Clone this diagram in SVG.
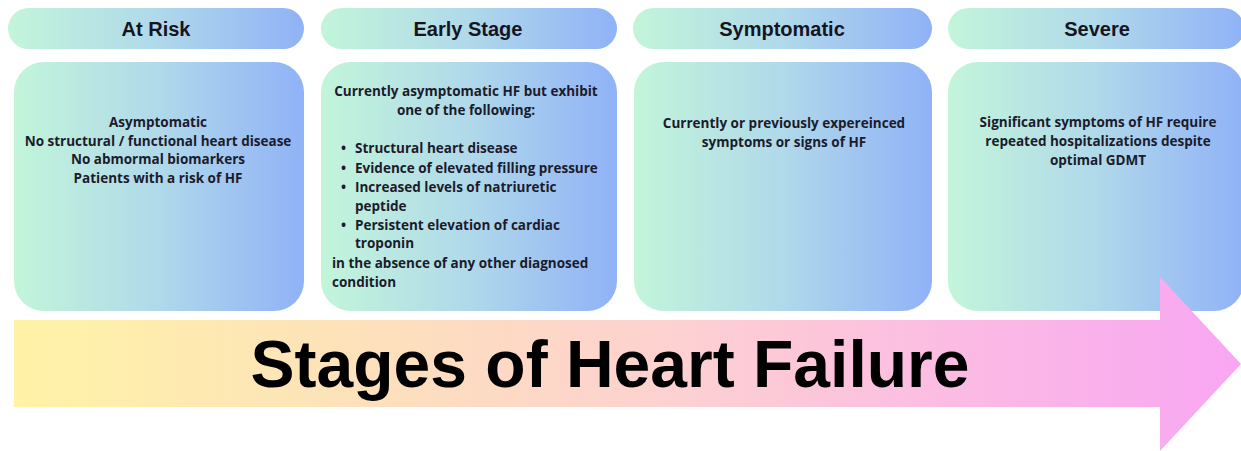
<svg xmlns="http://www.w3.org/2000/svg" width="1241" height="451" viewBox="0 0 1241 451">
<defs>
<linearGradient id="card" x1="0" y1="0" x2="1" y2="0">
<stop offset="0" stop-color="#c3f5da"/>
<stop offset="0.5" stop-color="#b0d9ea"/>
<stop offset="1" stop-color="#90b2f7"/>
</linearGradient>
<linearGradient id="arrow" gradientUnits="userSpaceOnUse" x1="14" y1="0" x2="1241" y2="0">
<stop offset="0" stop-color="#fff3a6"/>
<stop offset="0.3" stop-color="#fde0bc"/>
<stop offset="0.55" stop-color="#fdd0d2"/>
<stop offset="0.8" stop-color="#fbb8e6"/>
<stop offset="1" stop-color="#f8a6f2"/>
</linearGradient>
<style>
.hdr{font-family:"Liberation Sans",Arial,sans-serif;font-weight:700;font-size:20px;fill:#15151f;text-anchor:middle}
.body{font-family:"Open Sans","Noto Sans",sans-serif;font-weight:700;font-size:13.5px;fill:#1b1b2b}
.c{text-anchor:middle}
.title{font-family:"Liberation Sans",Arial,sans-serif;font-weight:700;font-size:66px;fill:#000;text-anchor:middle}
</style>
</defs>
<rect width="1241" height="451" fill="#ffffff"/>

<g id="at-risk">
<rect x="8" y="8" width="296" height="41" rx="20.5" fill="url(#card)"/>
<text class="hdr" x="156" y="36">At Risk</text>
<rect x="14" y="62" width="290" height="249" rx="30" fill="url(#card)"/>
<text class="body c" x="158" y="127">Asymptomatic</text>
<text class="body c" x="158" y="145.5">No structural / functional heart disease</text>
<text class="body c" x="158" y="164">No abmormal biomarkers</text>
<text class="body c" x="158" y="182.5">Patients with a risk of HF</text>
</g>

<g id="early-stage">
<rect x="321" y="8" width="296" height="41" rx="20.5" fill="url(#card)"/>
<text class="hdr" x="468" y="36">Early Stage</text>
<rect x="321" y="62" width="296" height="249" rx="30" fill="url(#card)"/>
<text class="body c" x="466" y="96">Currently asymptomatic HF but exhibit</text>
<text class="body c" x="466" y="115">one of the following:</text>
<text class="body" x="341" y="153">•</text>
<text class="body" x="355" y="153">Structural heart disease</text>
<text class="body" x="341" y="173">•</text>
<text class="body" x="355" y="173">Evidence of elevated filling pressure</text>
<text class="body" x="341" y="192">•</text>
<text class="body" x="355" y="192">Increased levels of natriuretic</text>
<text class="body" x="355" y="210.5">peptide</text>
<text class="body" x="341" y="229.5">•</text>
<text class="body" x="355" y="229.5">Persistent elevation of cardiac</text>
<text class="body" x="355" y="248">troponin</text>
<text class="body" x="332" y="268">in the absence of any other diagnosed</text>
<text class="body" x="332" y="287">condition</text>
</g>

<g id="symptomatic">
<rect x="633" y="8" width="299" height="41" rx="20.5" fill="url(#card)"/>
<text class="hdr" x="782" y="36">Symptomatic</text>
<rect x="634" y="62" width="298" height="249" rx="30" fill="url(#card)"/>
<text class="body c" x="784" y="128">Currently or previously expereinced</text>
<text class="body c" x="784" y="147">symptoms or signs of HF</text>
</g>

<g id="severe">
<rect x="948" y="8" width="296" height="41" rx="20.5" fill="url(#card)"/>
<text class="hdr" x="1097" y="36">Severe</text>
<rect x="948" y="62" width="296" height="249" rx="30" fill="url(#card)"/>
<text class="body c" x="1098" y="127">Significant symptoms of HF require</text>
<text class="body c" x="1098" y="146">repeated hospitalizations despite</text>
<text class="body c" x="1098" y="165">optimal GDMT</text>
</g>

<g id="stages-arrow">
<path d="M14,320 H1160 V277 L1241,364 L1160,451 V407 H14 Z" fill="url(#arrow)"/>
<text class="title" x="610" y="387">Stages of Heart Failure</text>
</g>
</svg>
